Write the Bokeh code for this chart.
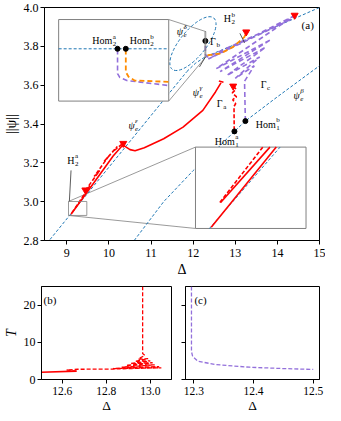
import numpy as np
from bokeh.plotting import figure
from bokeh.layouts import column, row
from bokeh.models import Range1d, FixedTicker, PrintfTickFormatter
from bokeh.core.properties import value
from bokeh.embed import file_html
from bokeh.resources import INLINE

FONT = "Liberation Serif"
BLUE, RED, PURPLE, ORANGE, GREY = "#1f77b4", "#ff0000", "#9370db", "#ff8c00", "#808080"
BDASH, RDASH, PDASH = "3 2", "4 2", "5 3"

# ---------------- panel (a) data ----------------
x_ticks_a = [9, 10, 11, 12, 13, 14, 15]
y_ticks_a = [2.8, 3.0, 3.2, 3.4, 3.6, 3.8, 4.0]

# steady branches psi_e
eps_delta = [8.60, 11.85]
eps_psi = [2.805, 3.67]
gam_delta = [11.85, 12.05, 12.28, 13.22, 15.0]
gam_psi = [3.67, 3.712, 3.745, 3.830, 4.0]
beta_delta = [10.60, 11.30, 12.00, 12.60, 12.98, 13.24, 14.00, 15.00]
beta_psi = [2.80, 3.00, 3.16, 3.28, 3.362, 3.415, 3.54, 3.70]
iso_delta, iso_psi = [11.995], [3.814]

# Gamma_a (red)
ga_sol_d = [9.10, 9.60, 10.10, 10.33, 10.40, 10.50, 10.62, 10.84, 11.30, 11.76, 12.23, 12.53, 12.66]
ga_sol_p = [2.935, 3.085, 3.235, 3.292, 3.282, 3.268, 3.262, 3.278, 3.324, 3.384, 3.470, 3.565, 3.612]
ga_dash_d = [9.12, 9.55, 9.42, 9.78, 9.65, 10.00, 9.88, 10.20, 10.08, 10.34]
ga_dash_p = [2.942, 3.082, 3.052, 3.160, 3.130, 3.236, 3.206, 3.284, 3.255, 3.302]
ga_vert_d = [12.95, 13.02, 12.93, 13.03, 12.94, 13.01, 12.97, 12.975]
ga_vert_p = [3.595, 3.580, 3.560, 3.540, 3.525, 3.505, 3.490, 3.362]
ga_cap_d = [12.61, 12.72]
ga_cap_p = [3.622, 3.615]

# Gamma_b (orange)
gb_d = [12.34, 12.65, 12.95, 13.22, 13.26]
gb_p = [3.754, 3.763, 3.797, 3.849, 3.874]

# Gamma_c (purple, snaking)
gc_d = [13.24, 13.22, 13.45, 13.00, 13.58, 12.80, 13.72, 12.64, 13.85, 12.55, 14.38, 12.36, 14.33, 12.33, 12.29, 12.29]
gc_p = [3.415, 3.620, 3.700, 3.635, 3.745, 3.650, 3.795, 3.670, 3.835, 3.685, 3.955, 3.735, 3.940, 3.745, 3.760, 3.828]

# markers
tri_d = [9.44, 10.34, 12.95, 13.26, 14.41]
tri_p = [3.06, 3.30, 3.595, 3.874, 3.96]
dot_d = [12.98, 13.24, 12.29]
dot_p = [3.362, 3.415, 3.828]

# insets: (x0, x1, y0, y1)
tl_box = (8.806, 11.42, 3.518, 3.938)
tl_zoom = (12.28, 12.30, 3.745, 3.876)
br_box = (12.055, 14.68, 2.862, 3.281)
br_zoom = (9.04, 9.475, 2.929, 3.001)

# top-left inset content (zoomed coordinates)
tl_blue_d = [12.28, 12.30]
tl_blue_p = [3.829, 3.829]
tl_hom_d = [12.2907, 12.2922]
tl_hom_p = [3.829, 3.829]
tl_pur_d = [12.2907, 12.2907, 12.2911, 12.2924, 12.30]
tl_pur_p = [3.828, 3.789, 3.783, 3.778, 3.770]
tl_or_d = [12.2922, 12.2922, 12.2927, 12.2938, 12.30]
tl_or_p = [3.828, 3.792, 3.784, 3.778, 3.776]

# bottom-right inset content (zoomed coordinates)
br_blue_d = [9.095, 9.373]
br_blue_p = [2.929, 3.001]
br_sol1_d = [9.102, 9.358]
br_sol1_p = [2.930, 3.001]
br_sol2_d = [9.139, 9.333]
br_sol2_p = [2.952, 3.001]
br_dash_d = [9.136, 9.305]
br_dash_p = [2.952, 3.001]

# labels: (delta, psi, base, sub, sup, italic)
labels_a = [
    (12.90, 3.943, "H", "2", "b", False),
    (12.54, 3.826, "Γ", "b", "", False),
    (11.76, 3.878, "ψ", "e", "δ", True),
    (12.14, 3.563, "ψ", "e", "γ", True),
    (13.74, 3.605, "Γ", "c", "", False),
    (12.70, 3.507, "Γ", "a", "", False),
    (14.53, 3.548, "ψ", "e", "β", True),
    (13.96, 3.398, "Hom", "1", "b", False),
    (12.99, 3.310, "Hom", "1", "a", False),
    (10.61, 3.393, "ψ", "e", "ε", True),
    (9.18, 3.213, "H", "2", "a", False),
]
labels_tl = [
    (10.08, 3.830, "Hom", "2", "a", False),
    (10.97, 3.830, "Hom", "2", "b", False),
]
pointer_d = [[13.11, 13.22], [12.15, 12.29], [9.10, 9.06]]
pointer_p = [[3.867, 3.818], [3.694, 3.745], [3.161, 3.001]]

# ---------------- panel (b), (c) data ----------------
b_sol_d = [12.506, 12.665]
b_sol_T = [1.95, 2.25]
b_dash_d = [12.665, 12.62, 12.67, 12.82, 13.05, 12.83, 13.04, 12.87, 13.02, 12.89, 13.01, 12.91, 13.00, 12.93, 12.99, 12.945, 12.975, 12.965, 12.965]
b_dash_T = [2.25, 2.55, 2.75, 2.80, 3.15, 2.95, 3.45, 3.30, 3.95, 3.80, 4.50, 4.30, 5.00, 4.90, 5.60, 5.50, 6.50, 7.00, 25.0]
c_d = [12.296, 12.296, 12.298, 12.307, 12.337, 12.393, 12.448, 12.50]
c_T = [25.0, 7.5, 6.2, 4.9, 4.0, 3.3, 2.95, 2.7]
b_ticks_x = [12.6, 12.8, 13.0]
c_ticks_x = [12.3, 12.4, 12.5]
ticks_T = [0, 10, 20]


def mapbox(ds, ps, zoom, box):
    zx0, zx1, zy0, zy1 = zoom
    bx0, bx1, by0, by1 = box
    X = [bx0 + (d - zx0) / (zx1 - zx0) * (bx1 - bx0) for d in ds]
    Y = [by0 + (q - zy0) / (zy1 - zy0) * (by1 - by0) for q in ps]
    return X, Y


def style(p):
    p.grid.visible = False
    p.outline_line_color = "black"
    p.outline_line_width = 1
    p.outline_line_alpha = 1
    for ax in p.axis:
        ax.axis_line_color = "black"
        ax.major_tick_line_color = "black"
        ax.minor_tick_line_color = None
        ax.major_tick_out = 4
        ax.major_tick_in = 0
        ax.major_label_text_font = FONT
        ax.major_label_text_font_size = "12px"
        ax.major_label_text_color = "black"
        ax.major_label_standoff = 2
        ax.axis_label_text_font = FONT
        ax.axis_label_text_font_size = "14px"
        ax.axis_label_text_font_style = "normal"
        ax.axis_label_text_color = "black"
        ax.axis_label_standoff = 2


def bottom_axis(q):
    q.xaxis.major_label_text_font_size = "11.5px"
    q.xaxis.axis_label_text_font_size = "13.5px"
    q.xaxis.major_label_standoff = 3
    q.xaxis.axis_label_standoff = 0


def label(p, x, y, base, sub, sup, italic, size=10):
    st = "italic" if italic else "normal"
    p.text(x=[x], y=[y], text=[base], text_font=value(FONT), text_font_size=f"{size}px",
           text_align="right", text_baseline="middle", text_font_style=st, text_color="black")
    if sub:
        p.text(x=[x], y=[y], text=[sub], text_font=value(FONT), text_font_size=f"{size*0.7:.1f}px",
               text_align="left", text_baseline="middle", text_font_style=st, text_color="black",
               x_offset=0.5, y_offset=size * 0.35)
    if sup:
        p.text(x=[x], y=[y], text=[sup], text_font=value(FONT), text_font_size=f"{size*0.7:.1f}px",
               text_align="left", text_baseline="middle", text_font_style=st, text_color="black",
               x_offset=0.5, y_offset=-size * 0.4)


# ---------------- main figure ----------------
p = figure(width=325, height=282, output_backend="svg", toolbar_location=None,
           x_range=Range1d(8.47, 15.0), y_range=Range1d(2.8, 4.0),
           min_border_left=36, min_border_right=6, min_border_top=7, min_border_bottom=42)
style(p)
p.xaxis.ticker = FixedTicker(ticks=x_ticks_a)
p.xaxis.major_label_standoff = 4
p.yaxis.ticker = FixedTicker(ticks=y_ticks_a)
p.yaxis.formatter = PrintfTickFormatter(format="%.1f")
p.xaxis.axis_label = "Δ"
p.yaxis.axis_label = "||ψ||"

# connectors (grey)
p.line([tl_box[1], tl_zoom[1]], [tl_box[3], tl_zoom[3]], line_color=GREY, line_width=0.8)
p.line([tl_box[1], tl_zoom[1]], [tl_box[2], tl_zoom[2]], line_color=GREY, line_width=0.8)
p.line([br_zoom[0], br_box[0]], [br_zoom[3], br_box[3]], line_color=GREY, line_width=0.8)
p.line([br_zoom[0], br_box[0]], [br_zoom[2], br_box[2]], line_color=GREY, line_width=0.8)

# blue branches
p.line(eps_delta, eps_psi, line_color=BLUE, line_width=1, line_dash=BDASH)
p.line(gam_delta, gam_psi, line_color=BLUE, line_width=1, line_dash=BDASH)
p.line(beta_delta, beta_psi, line_color=BLUE, line_width=1, line_dash=BDASH)
p.ellipse(x=iso_delta, y=iso_psi, width=66, height=26, angle=0.89,
          width_units="screen", height_units="screen", fill_alpha=0,
          line_color=BLUE, line_width=1, line_dash=BDASH)

# periodic orbits
p.line(gc_d, gc_p, line_color=PURPLE, line_width=1.6, line_dash=PDASH)
p.line(gb_d, gb_p, line_color=ORANGE, line_width=1.8, line_dash=PDASH)
p.line(ga_sol_d, ga_sol_p, line_color=RED, line_width=1.6)
p.line(ga_dash_d, ga_dash_p, line_color=RED, line_width=1.6, line_dash=RDASH)
p.line(ga_vert_d, ga_vert_p, line_color=RED, line_width=1.6, line_dash=RDASH)
p.line(ga_cap_d, ga_cap_p, line_color=RED, line_width=1.6)

p.scatter(tri_d, tri_p, marker="inverted_triangle", size=7, fill_color=RED, line_color=RED)
p.scatter(dot_d, dot_p, marker="circle", size=5, fill_color="black", line_color="black")

for xs, ys in zip(pointer_d, pointer_p):
    p.line(xs, ys, line_color="#333333", line_width=0.8)

for (x, y, b, s, u, it) in labels_a:
    label(p, x, y, b, s, u, it)
p.text(x=[14.72], y=[3.909], text=["(a)"], text_font=value(FONT), text_font_size="11px",
       text_align="center", text_baseline="middle", text_color="black")

# inset boxes
for box in (tl_box, br_box):
    p.quad(left=[box[0]], right=[box[1]], bottom=[box[2]], top=[box[3]],
           fill_color="white", line_color=GREY, line_width=1)

# top-left inset content
X, Y = mapbox(tl_blue_d, tl_blue_p, tl_zoom, tl_box)
p.line(X, Y, line_color=BLUE, line_width=1, line_dash=BDASH)
X, Y = mapbox(tl_pur_d, tl_pur_p, tl_zoom, tl_box)
p.line(X, Y, line_color=PURPLE, line_width=1.6, line_dash=PDASH)
X, Y = mapbox(tl_or_d, tl_or_p, tl_zoom, tl_box)
p.line(X, Y, line_color=ORANGE, line_width=1.8, line_dash=PDASH)
X, Y = mapbox(tl_hom_d, tl_hom_p, tl_zoom, tl_box)
p.scatter(X, Y, marker="circle", size=5, fill_color="black", line_color="black")
for (x, y, b, s, u, it) in labels_tl:
    label(p, x, y, b, s, u, it)

# bottom-right inset content
X, Y = mapbox(br_blue_d, br_blue_p, br_zoom, br_box)
p.line(X, Y, line_color=BLUE, line_width=1, line_dash=BDASH)
X, Y = mapbox(br_sol1_d, br_sol1_p, br_zoom, br_box)
p.line(X, Y, line_color=RED, line_width=1.6)
X, Y = mapbox(br_sol2_d, br_sol2_p, br_zoom, br_box)
p.line(X, Y, line_color=RED, line_width=1.6)
X, Y = mapbox(br_dash_d, br_dash_p, br_zoom, br_box)
p.line(X, Y, line_color=RED, line_width=1.6, line_dash=RDASH)

# zoom rectangles
for z in (tl_zoom, br_zoom):
    p.quad(left=[z[0]], right=[z[1]], bottom=[z[2]], top=[z[3]],
           fill_alpha=0, line_color=GREY, line_width=0.8)

# ---------------- panel (b) ----------------
pb = figure(width=177, height=137, output_backend="svg", toolbar_location=None,
            x_range=Range1d(12.506, 13.096), y_range=Range1d(0, 25),
            min_border_left=36, min_border_right=6, min_border_top=4, min_border_bottom=40)
style(pb)
bottom_axis(pb)
pb.xaxis.ticker = FixedTicker(ticks=b_ticks_x)
pb.xaxis.formatter = PrintfTickFormatter(format="%.1f")
pb.yaxis.ticker = FixedTicker(ticks=ticks_T)
pb.xaxis.axis_label = "Δ"
pb.yaxis.axis_label = "T"
pb.yaxis.axis_label_text_font_style = "italic"
pb.line(b_sol_d, b_sol_T, line_color=RED, line_width=1.6)
pb.line(b_dash_d, b_dash_T, line_color=RED, line_width=1.3, line_dash=RDASH)
pb.text(x=[12.515], y=[21.4], text=["(b)"], text_font=value(FONT), text_font_size="11px",
        text_align="left", text_baseline="middle", text_color="black")

# ---------------- panel (c) ----------------
pc = figure(width=148, height=137, output_backend="svg", toolbar_location=None,
            x_range=Range1d(12.286, 12.5105), y_range=Range1d(0, 25),
            min_border_left=8, min_border_right=6, min_border_top=4, min_border_bottom=40)
style(pc)
bottom_axis(pc)
pc.xaxis.ticker = FixedTicker(ticks=c_ticks_x)
pc.xaxis.formatter = PrintfTickFormatter(format="%.1f")
pc.yaxis.ticker = FixedTicker(ticks=ticks_T)
pc.yaxis.major_label_overrides = {0: "", 10: "", 20: ""}
pc.yaxis.major_label_standoff = 0
pc.xaxis.axis_label = "Δ"
pc.line(c_d, c_T, line_color=PURPLE, line_width=1.3, line_dash=RDASH)
pc.text(x=[12.301], y=[21.4], text=["(c)"], text_font=value(FONT), text_font_size="11px",
        text_align="left", text_baseline="middle", text_color="black")

layout = column(p, row(pb, pc))
open("out.html", "w").write(file_html(layout, INLINE))
